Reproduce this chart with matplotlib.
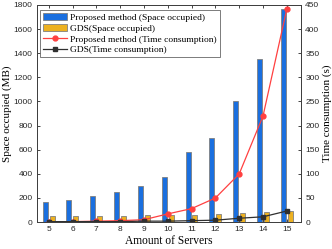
import matplotlib.pyplot as plt
import numpy as np

# data
servers = [5, 6, 7, 8, 9, 10, 11, 12, 13, 14, 15]
space_proposed = [163, 180, 218, 250, 300, 370, 583, 700, 1000, 1350, 1770]
space_gds = [50, 50, 52, 52, 55, 55, 58, 64, 72, 80, 91]
time_proposed = [1, 1, 2, 3, 5, 17, 28, 50, 100, 220, 442]
time_gds = [1, 1, 1, 1, 2, 2, 3, 4, 8, 11, 23]

serif = 'Liberation Serif'
plt.rcParams['font.family'] = 'Liberation Sans'

fig = plt.figure(figsize=(3.32, 2.49), dpi=100)
ax = fig.add_axes([0.111, 0.108, 0.796, 0.872])
ax2 = ax.twinx()

x = np.array(servers)
w = 0.21
b1 = ax.bar(x - 0.15, space_proposed, w, color='#1a6fdf', edgecolor='#808080', linewidth=0.6,
            label='Proposed method (Space occupied)')
b2 = ax.bar(x + 0.14, space_gds, w, color='#edb120', edgecolor='#808080', linewidth=0.6,
            label='GDS(Space occupied)')
l1, = ax2.plot(x, time_proposed, '-o', color='#ff4040', lw=0.9, ms=3.5,
               label='Proposed method (Time consumption)')
l2, = ax2.plot(x, time_gds, '-s', color='#303030', lw=0.9, ms=3,
               label='GDS(Time consumption)')

ax.set_xlim(4.5, 15.6)
ax.set_ylim(0, 1800)
ax2.set_ylim(0, 450)
ax.set_xticks(servers)
ax.set_yticks(range(0, 1801, 200))
ax2.set_yticks(range(0, 451, 50))

for a in (ax, ax2):
    for s in a.spines.values():
        s.set_color('#404040')
        s.set_linewidth(0.7)
ax.tick_params(direction='in', labelsize=6, length=2.5, width=0.6, top=True, colors='#262626', pad=3)
ax2.tick_params(direction='in', labelsize=6, length=2.5, width=0.6, colors='#262626', pad=3)

ax.set_xlabel('Amount of Servers', family=serif, fontsize=8.3, labelpad=1)
ax.set_ylabel('Space occupied (MB)', family=serif, fontsize=8, labelpad=1)
ax2.set_ylabel('Time consumption (s)', family=serif, fontsize=8, labelpad=2)

leg = ax.legend([b1, b2, l1, l2], [h.get_label() for h in (b1, b2, l1, l2)],
                loc='upper left', bbox_to_anchor=(0.005, 0.985), prop={'family': serif, 'size': 6.8},
                frameon=True, fancybox=False, edgecolor='#404040', borderpad=0.3,
                labelspacing=0.25, handlelength=2.6, handletextpad=0.3, borderaxespad=0.2)
leg.get_frame().set_linewidth(0.6)

fig.savefig('out.png', dpi=100)
